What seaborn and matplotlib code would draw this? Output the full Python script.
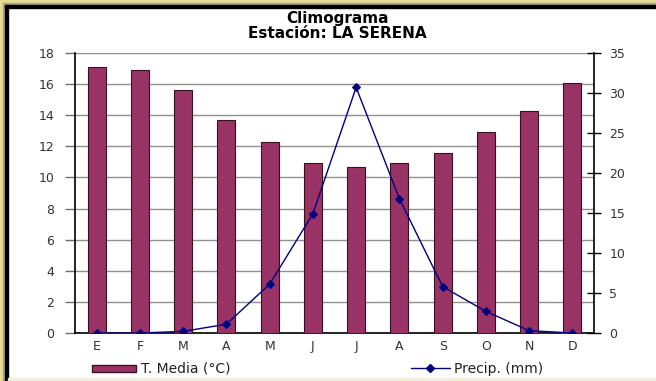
import matplotlib.pyplot as plt
import matplotlib.patches as mpatches
from matplotlib.lines import Line2D
import numpy as np
import pandas as pd
import seaborn as sns

MONTHS = ["E", "F", "M", "A", "M", "J", "J", "A", "S", "O", "N", "D"]
TEMP = [17.1, 16.9, 15.6, 13.7, 12.3, 10.9, 10.7, 10.9, 11.6, 12.9, 14.3, 16.1]
PRECIP = [0.0, 0.0, 0.2, 1.1, 6.1, 14.9, 30.7, 16.8, 5.8, 2.7, 0.3, 0.0]

BAR_COLOR = "#993366"
LINE_COLOR = "#000080"
FONT = "DejaVu Sans"

df = pd.DataFrame({"idx": range(len(MONTHS)), "temp": TEMP, "precip": PRECIP})

sns.set_style("white")
plt.rcParams["font.family"] = [FONT]

W, H = 656, 381
fig = plt.figure(figsize=(W / 100, H / 100), dpi=100, facecolor="white")

# outer frame: tan strip, gray, black line
def frect(x0, y0, w, h, c):
    fig.patches.append(mpatches.Rectangle((x0 / W, 1 - (y0 + h) / H), w / W, h / H,
                                          transform=fig.transFigure, color=c, zorder=0))

frect(0, 0, W, 3, "#E6DC96")
frect(0, 0, 3, H, "#E6DC96")
frect(3, 3, W, 2, "#A8A890")
frect(3, 3, 2, H, "#A8A890")
frect(5, 5, W, 3, "black")
frect(5, 5, 3, H, "black")
frect(8, 378, W, 3, "#F2EFDF")

ax = fig.add_axes([75 / W, 1 - 333 / H, (594 - 75) / W, (333 - 53) / H])
ax.set_facecolor("white")

sns.barplot(data=df, x="idx", y="temp", color=BAR_COLOR, saturation=1,
            width=0.42, edgecolor="#3A1020", linewidth=0.8, ax=ax, zorder=3)

ax.set_ylim(0, 18)
ax.set_yticks(np.arange(0, 19, 2))
ax.set_xlim(-0.5, len(MONTHS) - 0.5)
ax.yaxis.grid(True, color="#909090", linewidth=1.0, zorder=0)
ax.set_axisbelow(True)

# category labels at centres, tick marks at boundaries
ax.set_xticks(np.arange(-0.5, len(MONTHS), 1))
ax.set_xticklabels([])
ax.set_xticks(np.arange(len(MONTHS)), minor=True)
ax.set_xticklabels(MONTHS, minor=True)
ax.tick_params(axis="x", which="major", direction="inout", length=8, width=1, color="black")
ax.tick_params(axis="x", which="minor", length=0, pad=5, labelsize=9, labelcolor="#333333")
ax.tick_params(axis="y", direction="out", length=7, width=1, color="#707070",
               labelsize=9, labelcolor="#333333", pad=8, left=True)
ax.set_xlabel("")
ax.set_ylabel("")
for s in ["top", "right"]:
    ax.spines[s].set_visible(False)
ax.spines["left"].set_color("black")
ax.spines["bottom"].set_color("black")
ax.spines["left"].set_linewidth(1.2)
ax.spines["bottom"].set_linewidth(1.2)

ax2 = ax.twinx()
sns.lineplot(data=df, x="idx", y="precip", color=LINE_COLOR, marker="D",
             markersize=4, markeredgecolor=LINE_COLOR, linewidth=1.0, ax=ax2, zorder=5)
ax2.set_ylim(0, 35)
ax2.set_yticks(np.arange(0, 36, 5))
ax2.set_xlim(-0.5, len(MONTHS) - 0.5)
ax2.tick_params(axis="y", direction="inout", length=10, width=1, color="black",
                labelsize=9, labelcolor="#333333", pad=6, right=True)
ax2.set_ylabel("")
ax2.set_xlabel("")
for s in ["top", "left", "bottom"]:
    ax2.spines[s].set_visible(False)
ax2.spines["right"].set_color("black")
ax2.spines["right"].set_linewidth(1.2)

fig.text(0.514, 1 - 18 / H, "Climograma", ha="center", va="center",
         fontsize=11, fontweight="bold", color="black")
fig.text(0.514, 1 - 33 / H, "Estación: LA SERENA", ha="center", va="center",
         fontsize=11, fontweight="bold", color="black")

h1 = mpatches.Rectangle((0, 0), 1, 1, facecolor=BAR_COLOR, edgecolor="#3A1020")
h2 = Line2D([], [], color=LINE_COLOR, marker="D", markersize=4, linewidth=1.0)
fig.legend([h1], ["T. Media (°C)"], loc="center left", bbox_to_anchor=(92 / W, 1 - 369 / H),
           frameon=False, fontsize=10, handlelength=3.2, handleheight=0.4,
           handletextpad=0.3, borderpad=0, borderaxespad=0, labelcolor="#222222")
fig.legend([h2], ["Precip. (mm)"], loc="center left", bbox_to_anchor=(411 / W, 1 - 369 / H),
           frameon=False, fontsize=10, handlelength=2.8, handletextpad=0.3,
           borderpad=0, borderaxespad=0, labelcolor="#222222")

fig.savefig("out.png", dpi=100, facecolor=fig.get_facecolor())
